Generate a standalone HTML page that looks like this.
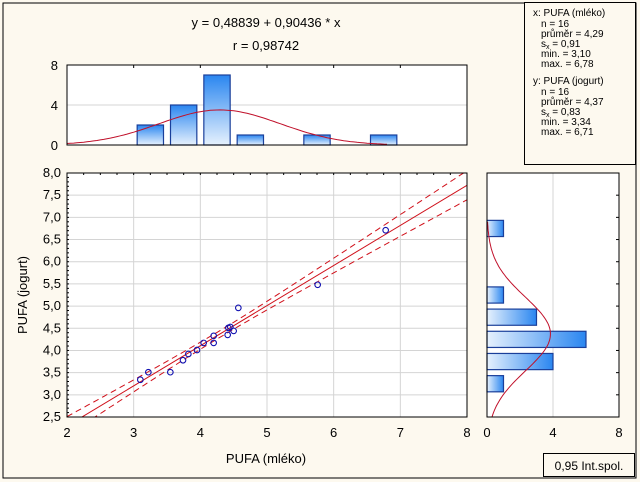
<!DOCTYPE html>
<html><head><meta charset="utf-8">
<style>
html,body{margin:0;padding:0;background:#fdf9ef;}
svg{display:block;font-family:"Liberation Sans",Arial,sans-serif;}
</style></head>
<body>
<svg id="c" width="640" height="482" viewBox="0 0 640 482" xmlns="http://www.w3.org/2000/svg">
<rect x="3" y="3" width="633" height="475" fill="#fdf9ef" stroke="#000" stroke-width="1"/>
<text x="266" y="27" font-size="13" text-anchor="middle" fill="#000">y = 0,48839 + 0,90436 * x</text>
<text x="266" y="50" font-size="13" text-anchor="middle" fill="#000">r = 0,98742</text>
<g>
<rect x="524.5" y="2.5" width="111" height="162" fill="#fdf9ef" stroke="#000"/>
<text font-size="10" fill="#000">
<tspan x="533" y="16">x: PUFA (mléko)</tspan>
<tspan x="541" y="27">n = 16</tspan>
<tspan x="541" y="37">průměr = 4,29</tspan>
<tspan x="541" y="47">s<tspan font-size="7" dy="2">x</tspan><tspan dy="-2"> = 0,91</tspan></tspan>
<tspan x="541" y="57">min. = 3,10</tspan>
<tspan x="541" y="67">max. = 6,78</tspan>
<tspan x="533" y="84">y: PUFA (jogurt)</tspan>
<tspan x="541" y="95">n = 16</tspan>
<tspan x="541" y="105">průměr = 4,37</tspan>
<tspan x="541" y="115">s<tspan font-size="7" dy="2">x</tspan><tspan dy="-2"> = 0,83</tspan></tspan>
<tspan x="541" y="125">min. = 3,34</tspan>
<tspan x="541" y="135">max. = 6,71</tspan>
</text>
</g>
<g>
<rect x="543.5" y="453.5" width="91" height="23" fill="#fdf9ef" stroke="#000"/>
<text x="589" y="470" font-size="12" text-anchor="middle" fill="#000">0,95 Int.spol.</text>
</g>
<defs>
<linearGradient id="gv" x1="0" y1="1" x2="0" y2="0"><stop offset="0" stop-color="#e6f1fd"/><stop offset="1" stop-color="#2a86f0"/></linearGradient>
<linearGradient id="gh" x1="0" y1="0" x2="1" y2="0"><stop offset="0" stop-color="#e6f1fd"/><stop offset="1" stop-color="#2a86f0"/></linearGradient>
<clipPath id="sc"><rect x="67" y="173" width="400" height="244"/></clipPath>
</defs>
<g id="top"></g>
<g id="right"></g>
<g id="scatter"></g>
<text x="266" y="463" font-size="13" text-anchor="middle" fill="#000">PUFA (mléko)</text>
<text transform="translate(27,295) rotate(-90)" font-size="13" text-anchor="middle" fill="#000">PUFA (jogurt)</text>
</svg>
<script>
const xVals=[6.78,5.76,4.57,4.45,4.42,4.50,4.41,4.20,4.20,4.05,3.95,3.82,3.74,3.55,3.22,3.10];
const yVals=[6.71,5.48,4.96,4.53,4.51,4.44,4.35,4.33,4.17,4.17,4.01,3.92,3.78,3.51,3.51,3.34];
const xTicks=[2,3,4,5,6,7,8];
const yTicks=[2.5,3.0,3.5,4.0,4.5,5.0,5.5,6.0,6.5,7.0,7.5,8.0];
const xBinStarts=[3.0,3.5,4.0,4.5,5.5,6.5];
const xBinCounts=[2,4,7,1,1,1];
const yBinStarts=[3.0,3.5,4.0,4.5,5.0,6.5];
const yBinCounts=[1,4,6,3,1,1];
const histTicks=[0,4,8];
const intercept=0.48839, slope=0.90436;
const xMean=4.29, xSd=0.91, yMean=4.37, ySd=0.83, binW=0.5, nObs=16;

const NS="http://www.w3.org/2000/svg";
function mk(tag,attrs,parent){const e=document.createElementNS(NS,tag);for(const k in attrs)e.setAttribute(k,attrs[k]);parent.appendChild(e);return e;}
const sx=v=>67+(v-2)*400/6;
const sy=v=>417-(v-2.5)*244/5.5;
const hy=v=>145-v*80/8;
const hx=v=>487+v*132/8;

// scatter
const g=document.getElementById('scatter');
const bg=mk('rect',{x:67,y:173,width:400,height:244,fill:'#fff'},g);


xTicks.forEach(t=>{
 if(t>2&&t<8){const l=mk('line',{x1:sx(t),x2:sx(t),y1:173,y2:417,stroke:'#d4d4d4'},g);
 
 }
 const tx=mk('text',{x:sx(t),y:437,'font-size':13,'text-anchor':'middle',fill:'#000'},g);tx.textContent=t;
 
 
});
yTicks.forEach(t=>{
 if(t>2.5&&t<8){const l=mk('line',{x1:67,x2:467,y1:sy(t),y2:sy(t),stroke:'#d4d4d4'},g);
 
 }
 const tx=mk('text',{x:61,y:sy(t)+4,'font-size':13,'text-anchor':'end',fill:'#000'},g);tx.textContent=t.toFixed(1).replace('.',',');
 
 
});
// CI bands
const n=xVals.length, mx=xVals.reduce((a,b)=>a+b)/n;
let sxx=0,sse=0;for(let i=0;i<n;i++){sxx+=(xVals[i]-mx)**2;sse+=(yVals[i]-(intercept+slope*xVals[i]))**2;}
const s=Math.sqrt(sse/(n-2)), tcrit=2.145;
const cg=mk('g',{'clip-path':'url(#sc)'},g);
const fit=mk('line',{x1:sx(2),y1:sy(intercept+slope*2),x2:sx(8),y2:sy(intercept+slope*8),stroke:'#d0101a','stroke-width':1},cg);


[1,-1].forEach(sg=>{
 let d='';for(let x=2;x<=8.001;x+=0.05){const yh=intercept+slope*x+sg*tcrit*s*Math.sqrt(1/n+(x-mx)**2/sxx);d+=(d?'L':'M')+sx(x).toFixed(1)+','+sy(yh).toFixed(1);}
 const p=mk('path',{d:d,fill:'none',stroke:'#d0101a','stroke-dasharray':'6,4'},cg);
 
 
});
for(let i=0;i<n;i++){
 const c=mk('circle',{cx:sx(xVals[i]),cy:sy(yVals[i]),r:2.8,fill:'none',stroke:'#1010b0','stroke-width':1.1},g);
 
 
}
mk('rect',{x:67,y:173,width:400,height:244,fill:'none',stroke:'#000'},g);
for(let t=2.5;t<=8;t+=0.1){mk('line',{x1:67,x2:69,y1:sy(t),y2:sy(t),stroke:'#000'},g);}
for(let t=2;t<=8;t+=0.25){mk('line',{x1:sx(t),x2:sx(t),y1:173,y2:175,stroke:'#000'},g);}

// top histogram
const gt=document.getElementById('top');
mk('rect',{x:67,y:65,width:400,height:80,fill:'#fff'},gt);
mk('line',{x1:67,x2:467,y1:hy(4),y2:hy(4),stroke:'#d4d4d4'},gt);
histTicks.forEach(t=>{const tx=mk('text',{x:58,y:hy(t)+5,'font-size':13,'text-anchor':'end',fill:'#000'},gt);tx.textContent=t;
 
 });
xBinStarts.forEach((b,i)=>{
 const r=mk('rect',{x:sx(b)+3.5,y:hy(xBinCounts[i]),width:binW*400/6-7,height:145-hy(xBinCounts[i]),fill:'url(#gv)',stroke:'#1a3f9a','stroke-width':1.2},gt);
 
 
});
{let d='';for(let x=2;x<=6.8;x+=0.05){const v=nObs*binW/(xSd*Math.sqrt(2*Math.PI))*Math.exp(-((x-xMean)**2)/(2*xSd*xSd));d+=(d?'L':'M')+sx(x).toFixed(1)+','+hy(v).toFixed(1);}
 const p=mk('path',{d:d,fill:'none',stroke:'#c0102a'},gt);
 
 }
mk('rect',{x:67,y:65,width:400,height:80,fill:'none',stroke:'#000'},gt);
for(let t=3;t<8;t++)mk('line',{x1:sx(t),x2:sx(t),y1:65,y2:68,stroke:'#000'},gt);

// right histogram
const gr=document.getElementById('right');
mk('rect',{x:487,y:173,width:132,height:244,fill:'#fff'},gr);
mk('line',{x1:hx(4),x2:hx(4),y1:173,y2:417,stroke:'#d4d4d4'},gr);
histTicks.forEach(t=>{const tx=mk('text',{x:hx(t),y:437,'font-size':13,'text-anchor':'middle',fill:'#000'},gr);tx.textContent=t;
 
 });
yBinStarts.forEach((b,i)=>{
 const r=mk('rect',{x:487,y:sy(b+binW)+3,width:hx(yBinCounts[i])-487,height:binW*244/5.5-6,fill:'url(#gh)',stroke:'#1a3f9a','stroke-width':1.2},gr);
 
 
});
{let d='';for(let y=2.5;y<=6.9;y+=0.05){const v=nObs*binW/(ySd*Math.sqrt(2*Math.PI))*Math.exp(-((y-yMean)**2)/(2*ySd*ySd));d+=(d?'L':'M')+hx(v).toFixed(1)+','+sy(y).toFixed(1);}
 const p=mk('path',{d:d,fill:'none',stroke:'#c0102a'},gr);
 
 }
mk('rect',{x:487,y:173,width:132,height:244,fill:'none',stroke:'#000'},gr);
for(let t=3;t<8;t+=0.5)mk('line',{x1:616,x2:619,y1:sy(t),y2:sy(t),stroke:'#000'},gr);
</script>
</body></html>
